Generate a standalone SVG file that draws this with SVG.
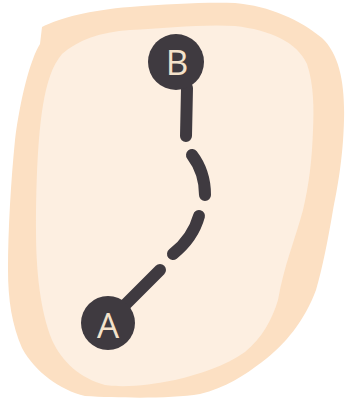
<svg xmlns="http://www.w3.org/2000/svg" width="347" height="398" viewBox="0 0 347 398">
  <style>
    .node circle { fill: #3f3a40; }
    .node text { fill: #f4e2cb; font-family: "Open Sans", "Liberation Sans", sans-serif; font-size: 35px; text-anchor: middle; dominant-baseline: central; }
    .link { fill: none; stroke: #3f3a40; stroke-width: 12; stroke-linecap: round; }
  </style>
  <rect width="347" height="398" fill="#ffffff"/>
  <!-- soft region behind the route -->
  <g id="region">
    <path fill="#fce0c3" d="M42,27 C60,18 90,10 130,7 C170,4 205,2 235,3 C270,6 300,20 322,38 C340,55 345,85 344,120 C343,160 337,190 333,210 C328,240 322,270 316,290 C305,320 285,345 262,362 C245,375 225,388 200,394 C170,399 120,398 85,396 C60,390 35,372 22,348 C12,325 8,300 8,270 C8,230 11,180 15,140 C20,100 30,60 40,44 Z"/>
    <path fill="#fdefe1" d="M62,54 C78,40 100,32 130,30 C165,28 205,24 235,26 C270,30 297,42 307,64 C314,85 314,110 313,130 C312,160 309,185 303,210 C295,240 284,265 278,300 C272,320 262,338 245,352 C225,366 200,374 175,380 C150,385 125,388 105,385 C80,378 62,362 52,340 C40,310 36,270 36,230 C36,180 38,135 43,105 C47,82 52,66 62,54 Z"/>
  </g>
  <!-- dashed route from B down to A -->
  <g id="connectors">
    <path class="link" d="M187,88 L186,136 M192,155 Q205,172 205,195 M199,216 Q193,238 173,254 M160,270 L118,312"/>
  </g>
  <g id="node-b" class="node">
    <circle cx="176" cy="62" r="28"/>
    <text x="177" y="61">B</text>
  </g>
  <g id="node-a" class="node">
    <circle cx="108" cy="323" r="27"/>
    <text x="108" y="324">A</text>
  </g>
</svg>
